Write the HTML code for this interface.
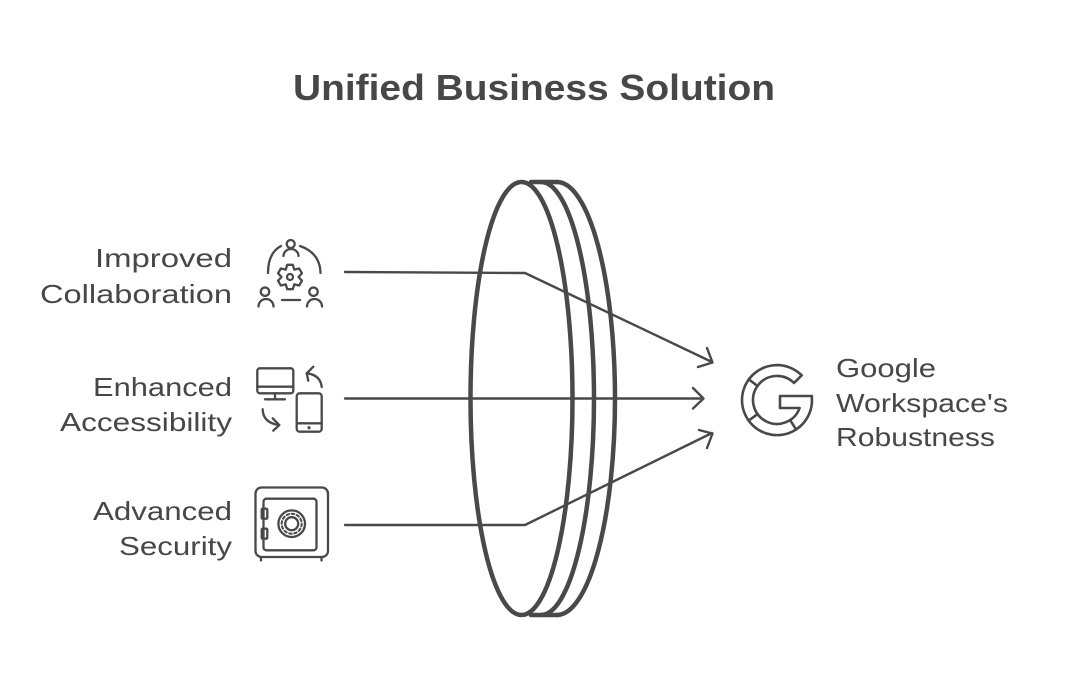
<!DOCTYPE html>
<html><head><meta charset="utf-8"><style>
html,body{margin:0;padding:0;background:#fff;}
svg{display:block;}
text{font-family:"Liberation Sans",sans-serif;fill:#474747;}
</style></head><body>
<svg width="1068" height="690" viewBox="0 0 1068 690" xmlns="http://www.w3.org/2000/svg">
<rect width="1068" height="690" fill="#fff"/>
<text x="293" y="100" font-size="36" font-weight="bold" textLength="482" lengthAdjust="spacingAndGlyphs">Unified Business Solution</text>

<g font-size="26">
<text x="95" y="267" textLength="137" lengthAdjust="spacingAndGlyphs">Improved</text>
<text x="40" y="303" textLength="192" lengthAdjust="spacingAndGlyphs">Collaboration</text>
<text x="93" y="396" textLength="139" lengthAdjust="spacingAndGlyphs">Enhanced</text>
<text x="60" y="431" textLength="172" lengthAdjust="spacingAndGlyphs">Accessibility</text>
<text x="93" y="520" textLength="139" lengthAdjust="spacingAndGlyphs">Advanced</text>
<text x="119" y="555" textLength="113" lengthAdjust="spacingAndGlyphs">Security</text>
</g>
<g font-size="26">
<text x="836" y="377" textLength="100" lengthAdjust="spacingAndGlyphs">Google</text>
<text x="836" y="412" textLength="172" lengthAdjust="spacingAndGlyphs">Workspace's</text>
<text x="836" y="446" textLength="159" lengthAdjust="spacingAndGlyphs">Robustness</text>
</g>

<!-- lens -->
<g fill="none" stroke="#494949" stroke-width="4.5" stroke-linecap="round">
<ellipse cx="521.5" cy="398.5" rx="51" ry="216.5"/>
<path d="M541 182 A53 216.5 0 0 1 541 615"/>
<path d="M557 182 A58 216.5 0 0 1 557 615"/>
<path d="M531 182 L557 182"/>
<path d="M531 615 L558 615"/>
</g>

<!-- connectors -->
<g fill="none" stroke="#494949" stroke-width="2.4" stroke-linecap="round" stroke-linejoin="round">
<path d="M345 272 L525 273 L712 362"/>
<path d="M707 348 L712.5 362.5 L698 367"/>
<path d="M345 398.5 L703 398.5"/>
<path d="M693 388 L703.5 398.5 L693 408.5"/>
<path d="M345 525 L525 525 L712 433"/>
<path d="M699 430 L712.5 433.5 L707 448"/>
</g>

<!-- icon 1 collaboration -->
<g fill="none" stroke="#494949" stroke-width="2.3" stroke-linecap="round" stroke-linejoin="round">
<circle cx="290.7" cy="244" r="4"/>
<path d="M283.5 256 A7.5 7 0 0 1 298.5 256"/>
<path d="M281 246 Q268 253 268 273"/>
<path d="M300 246 Q320 253 320.5 273"/>
<path d="M287.19 264.82 L292.81 264.82 L294.25 269.64 L299.14 268.48 L301.95 273.35 L298.5 277 L301.95 280.65 L299.14 285.52 L294.25 284.36 L292.81 289.18 L287.19 289.18 L285.75 284.36 L280.86 285.52 L278.05 280.65 L281.5 277 L278.05 273.35 L280.86 268.48 L285.75 269.64 Z"/>
<circle cx="290" cy="277" r="3"/>
<circle cx="265" cy="291.7" r="4.2"/>
<path d="M258.5 306.5 A7.5 7.5 0 0 1 273.5 306.5"/>
<circle cx="313.5" cy="291.7" r="4.2"/>
<path d="M307 306.5 A7.5 7.5 0 0 1 322 306.5"/>
<path d="M282 300 L300 300"/>
</g>

<!-- icon 2 accessibility -->
<g fill="none" stroke="#494949" stroke-width="2.3" stroke-linecap="round" stroke-linejoin="round">
<rect x="257.3" y="368.3" width="36" height="25" rx="2.5"/>
<path d="M257.3 386.7 L293.3 386.7"/>
<path d="M275 393.3 L275 399.3"/>
<path d="M265 399.3 L285 399.3"/>
<rect x="296.7" y="393.3" width="25" height="38.4" rx="3"/>
<path d="M296.7 423.3 L321.7 423.3"/>
<path d="M321.7 387 Q320.5 375 306.7 373.3"/>
<path d="M313.3 366.7 L306.7 373.3 L308.3 380.7"/>
<path d="M262.7 409.3 Q263 423 279.3 425"/>
<path d="M272.7 418.3 L279.3 425 L273.3 430.7"/>
</g>
<circle cx="309" cy="427.7" r="1.6" fill="#494949"/>

<!-- icon 3 safe -->
<g fill="none" stroke="#494949" stroke-width="2.3" stroke-linecap="round" stroke-linejoin="round">
<rect x="255.5" y="487.5" width="72.5" height="69.5" rx="6"/>
<rect x="263.5" y="498.7" width="53" height="51.6" rx="3"/>
<rect x="261.7" y="508.7" width="5.6" height="10" rx="1"/>
<rect x="261.7" y="528.7" width="5.6" height="10" rx="1"/>
<circle cx="291.7" cy="523.7" r="13.3"/>
<circle cx="291.7" cy="523.7" r="6.5"/>
<circle cx="291.7" cy="523.7" r="10" stroke-dasharray="2.6 2.6" stroke-width="2"/>
<path d="M261 557 L261 560.5"/>
<path d="M321.5 557 L321.5 560.5"/>
</g>

<!-- Google G -->
<g fill="none" stroke="#494949" stroke-width="2.6" stroke-linejoin="round" stroke-linecap="round">
<path d="M801.7 375.3 A35 35 0 1 0 811.9 403 L811.9 396 L780 396 L780 408 L799.6 408 A24 24 0 1 1 794 383 Z"/>
<path d="M757.6 385.9 L748.7 379.4"/>
<path d="M757.6 414.1 L748.7 420.6"/>
<path d="M790.1 420.1 L796.1 429.4"/>
</g>
</svg>
</body></html>
